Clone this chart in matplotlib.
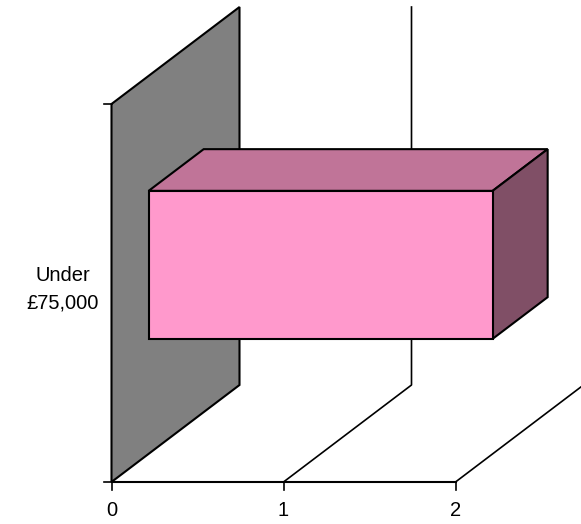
import numpy as np
import matplotlib
matplotlib.use("Agg")
import matplotlib.pyplot as plt
from matplotlib.patches import Polygon

# data
categories = ["Under\n£75,000"]
values = [2]
x_ticks = [0, 1, 2]

# 3d-ish look (in axis units)
DX = 128.0 / 172      # depth shift in value units
DY = 97.0 / 378       # depth shift in category units
D0, D1 = 0.29, 0.72   # bar depth range
BAR_H = 148.0 / 378   # bar height in category units

wall_col = "#808080"
front_col = "#ff99cc"
top_col = "#c07498"
side_col = "#804f66"


def proj(v, c, d):
    return v + d * DX, c + d * DY


fig = plt.figure(figsize=(5.81, 5.24), dpi=100)
ax = fig.add_axes([0, 0, 1, 1])
ax.set_xlim(-111.5 / 172, (581 - 111.5) / 172)
ax.set_ylim(-(524 - 482) / 378, 482 / 378)
ax.axis("off")

# back wall (left side wall)
wall = [proj(0, 0, 0), proj(0, 0, 1), proj(0, 1, 1), proj(0, 1, 0)]
ax.add_patch(Polygon(wall, closed=True, fc=wall_col, ec="black", lw=1.5, zorder=1))

# gridlines on floor and back wall
for t in x_ticks[1:]:
    pts = [proj(t, 0, 0), proj(t, 0, 1), proj(t, 1, 1)]
    xs, ys = zip(*pts)
    ax.plot(xs, ys, color="black", lw=1.2, zorder=1)

# floor front edge
ax.plot([0, x_ticks[-1]], [0, 0], color="black", lw=1.5, zorder=2)

# ticks
for t in x_ticks:
    ax.plot([t, t], [0, -8 / 378], color="black", lw=1.2, zorder=2)
    ax.text(t, -28 / 378, str(t), ha="center", va="center",
            fontsize=14.5, family="Liberation Sans")
for c in [0, 1]:
    ax.plot([-8 / 172, 0], [c, c], color="black", lw=1.2, zorder=2)

# bars
for i, (cat, v) in enumerate(zip(categories, values)):
    cy = 0.5 + i
    c0, c1 = cy - BAR_H / 2, cy + BAR_H / 2
    front = [proj(0, c0, D0), proj(v, c0, D0), proj(v, c1, D0), proj(0, c1, D0)]
    top = [proj(0, c1, D0), proj(v, c1, D0), proj(v, c1, D1), proj(0, c1, D1)]
    side = [proj(v, c0, D0), proj(v, c0, D1), proj(v, c1, D1), proj(v, c1, D0)]
    ax.add_patch(Polygon(top, closed=True, fc=top_col, ec="black", lw=1.5, zorder=3))
    ax.add_patch(Polygon(side, closed=True, fc=side_col, ec="black", lw=1.5, zorder=3))
    ax.add_patch(Polygon(front, closed=True, fc=front_col, ec="black", lw=1.5, zorder=4))
    ax.text(-49 / 172, cy + 4 / 378, cat, ha="center", va="center",
            fontsize=14.5, family="Liberation Sans", linespacing=1.55)

fig.savefig("out.png", dpi=100)
